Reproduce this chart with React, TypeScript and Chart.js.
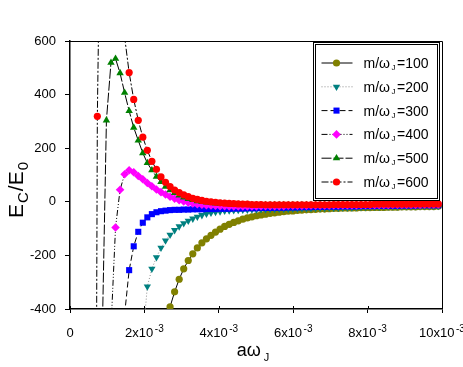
import { useEffect, useRef } from 'react';
import { Chart, registerables } from 'chart.js';
import { drawPoint } from 'chart.js/helpers';

Chart.register(...registerables);

// a*omega_J values (units of 10^-3)
const xValues = [
  0.613, 0.735, 0.857, 0.979, 1.102, 1.224, 1.346, 1.468, 1.590, 1.713,
  1.835, 1.957, 2.079, 2.201, 2.324, 2.446, 2.568, 2.690, 2.812, 2.935,
  3.057, 3.179, 3.301, 3.423, 3.546, 3.668, 3.790, 3.912, 4.034, 4.157,
  4.279, 4.401, 4.523, 4.645, 4.768, 4.890, 5.012, 5.134, 5.256, 5.379,
  5.501, 5.623, 5.745, 5.867, 5.990, 6.112, 6.234, 6.356, 6.478, 6.601,
  6.723, 6.845, 6.967, 7.089, 7.212, 7.334, 7.456, 7.578, 7.700, 7.823,
  7.945, 8.067, 8.189, 8.311, 8.434, 8.556, 8.678, 8.800, 8.922, 9.045,
  9.167, 9.289, 9.411, 9.533, 9.656, 9.778, 9.900,
];

const series100 = [
  null, null, null, null, null, null, null, null, null, null,
  null, null, null, null, null, null,
  -530, -392, -336, -289, -250, -219, -194, -172, -153, -138,
  -125, -113, -102, -92, -84, -77, -71, -65, -60, -56,
  -52, -49, -46, -43, -41, -39, -37, -35, -34, -32, -31,
  -30, -29, -28, -27, -27, -26, -25, -25, -24, -24,
  -23, -23, -22, -22, -22, -21, -21, -21, -20, -20,
  -20, -19, -19, -19, -19, -18, -18, -18, -18, -17,
];

const series200 = [
  null, null, null, null, null, null, null, null, null, null, null,
  -510, -316, -250, -207, -172, -145, -123, -106, -92, -80,
  -71, -63, -56, -50, -45, -41, -38, -36, -34, -33, -32,
  -31, -30, -30, -29, -29, -28, -28, -27, -27, -26, -26, -26, -25, -25, -24,
  -24, -24, -23, -23, -23, -22, -22, -22, -21, -21,
  -21, -20, -20, -20, -19, -19, -19, -18, -18, -18,
  -18, -17, -17, -17, -17, -16, -16, -16, -16, -16,
];

const series300 = [
  null, null, null, null, null, null, null,
  -420, -255, -166, -112, -78, -58, -46, -39, -35, -33, -31, -30, -30, -29, -29,
  -28, -28, -28, -27, -27, -27, -26, -26, -26, -25,
  -25, -25, -24, -24, -24, -23, -23, -23, -22, -22, -22, -21, -21, -21, -20,
  -20, -20, -19, -19, -19, -18, -18, -18, -17, -17,
  -17, -17, -16, -16, -16, -16, -15, -15, -15, -15,
  -15, -14, -14, -14, -14, -13, -13, -13, -13, -13,
];

const series400 = [
  null, null, null, null,
  -470, -96, 45, 103, 118, 110, 96, 84, 70, 58,
  46, 36, 27, 19, 12, 6, 1, -3, -6, -9,
  -11, -13, -14, -15, -16, -16, -17, -17, -17,
  -17, -17, -17, -17, -16, -16, -16, -16, -16,
  -16, -15, -15, -15, -15, -15, -14, -14, -14, -14,
  -14, -13, -13, -13, -13, -13, -13, -12, -12, -12,
  -12, -12, -12, -12, -11, -11, -11, -11, -11, -11,
  -11, -10, -10, -10, -10,
];

const series500 = [
  null, null,
  -570, 304, 519, 534, 480, 407, 339, 277, 229, 182,
  145, 118, 94, 74, 57, 44, 33, 24, 17, 11,
  7, 3, 0, -2, -4, -6, -7, -8, -9, -10,
  -10, -11, -11, -12,
  -12, -12, -12, -12, -12, -12, -12, -12, -12, -12, -12, -12, -12, -12, -12,
  -12, -12, -12, -11, -11, -11, -11, -11, -11, -11,
  -10, -10, -10, -10, -10, -10, -10, -10, -9, -9,
  -9, -9, -9, -9, -9, -9,
];

const series600 = [
  -4500, 319, 1550, 1380, 1140, 920, 750, 615, 482, 382,
  304, 241, 192, 151, 121, 93, 73, 57, 44, 34,
  26, 19, 13, 9, 5, 2, 0, -2, -4, -5,
  -6, -7, -8, -9, -9, -10,
  -10, -10, -11, -11, -11, -11, -11, -11, -11, -11, -11, -11, -11, -11, -11,
  -11, -11, -10, -10, -10, -10, -10, -10, -10, -10,
  -10, -9, -9, -9, -9, -9, -9, -9, -9, -9,
  -8, -8, -8, -8, -8, -8,
];

const seriesLabels = ['100', '200', '300', '400', '500', '600'];
const seriesValues = [series100, series200, series300, series400, series500, series600];
const xTickValues = [0, 2, 4, 6, 8, 10];
const yTickValues = [-400, -200, 0, 200, 400, 600];

const FONT = '"Liberation Sans", Arial, Helvetica, sans-serif';

const seriesStyles = [
  { color: '#808000', pointStyle: 'circle', radius: 3.6, rotation: 0, dash: [] as number[], line: '#000000' },
  { color: '#008080', pointStyle: 'triangle', radius: 4.2, rotation: 180, dash: [1, 2], line: '#8c8c8c' },
  { color: '#0000ff', pointStyle: 'rect', radius: 4.3, rotation: 0, dash: [6, 3], line: '#000000' },
  { color: '#ff00ff', pointStyle: 'rectRot', radius: 4.3, rotation: 0, dash: [6, 2, 1, 2, 1, 2], line: '#000000' },
  { color: '#008000', pointStyle: 'triangle', radius: 4.3, rotation: 0, dash: [10, 2], line: '#000000' },
  { color: '#ff0000', pointStyle: 'circle', radius: 3.6, rotation: 0, dash: [7, 2, 2, 2], line: '#000000' },
];

type Run = { t: string; size: number; dy?: number; gap?: number };

function drawRuns(ctx: CanvasRenderingContext2D, runs: Run[], x: number, y: number, align: 'left' | 'center') {
  const widths = runs.map((r) => {
    ctx.font = `${r.size}px ${FONT}`;
    return ctx.measureText(r.t).width + (r.gap || 0);
  });
  const total = widths.reduce((a, b) => a + b, 0);
  let cx = align === 'center' ? x - total / 2 : x;
  ctx.textAlign = 'left';
  ctx.textBaseline = 'alphabetic';
  runs.forEach((r, i) => {
    ctx.font = `${r.size}px ${FONT}`;
    ctx.fillText(r.t, cx, y + (r.dy || 0));
    cx += widths[i];
  });
}

const decorPlugin = {
  id: 'decor',
  afterDraw(chart: any) {
    const { ctx, chartArea: ca, scales } = chart;
    ctx.save();
    ctx.strokeStyle = '#000';
    ctx.lineWidth = 1;
    ctx.setLineDash([]);
    // top and right frame
    ctx.beginPath();
    ctx.moveTo(ca.left, ca.top + 0.5);
    ctx.lineTo(ca.right + 0.5, ca.top + 0.5);
    ctx.lineTo(ca.right + 0.5, ca.bottom);
    ctx.stroke();
    // inner part of x ticks
    xTickValues.forEach((v) => {
      const px = Math.round(scales.x.getPixelForValue(v)) + 0.5;
      ctx.beginPath();
      ctx.moveTo(px, ca.bottom - 3);
      ctx.lineTo(px, ca.bottom);
      ctx.stroke();
    });
    // x tick labels
    ctx.fillStyle = '#000';
    xTickValues.forEach((v) => {
      const px = scales.x.getPixelForValue(v);
      const runs: Run[] = v === 0
        ? [{ t: '0', size: 13 }]
        : [{ t: `${v}x10`, size: 13, gap: 1.5 }, { t: '-3', size: 10, dy: -5 }];
      drawRuns(ctx, runs, px, ca.bottom + 27.5, 'center');
    });
    // x title
    drawRuns(ctx, [{ t: 'aω', size: 18, gap: 3 }, { t: 'J', size: 11, dy: 5 }], (ca.left + ca.right) / 2 - 3, ca.bottom + 47, 'center');
    // y title
    ctx.save();
    ctx.translate(22.5, 190);
    ctx.rotate(-Math.PI / 2);
    drawRuns(ctx, [
      { t: 'E', size: 21, gap: 1 },
      { t: 'C', size: 15, dy: 5, gap: 1 },
      { t: '/E', size: 21, gap: 1 },
      { t: '0', size: 15, dy: 5 },
    ], 0, 0, 'center');
    ctx.restore();
    // legend
    const lx = ca.left + 243.5, ly = ca.top + 1.5, lw = 126, lh = 158;
    ctx.fillStyle = '#fff';
    ctx.fillRect(lx, ly, lw, lh);
    ctx.strokeStyle = '#000';
    ctx.strokeRect(lx, ly, lw, lh);
    ctx.strokeRect(lx + 2, ly + 2, lw - 4, lh - 4);
    seriesLabels.forEach((lab, i) => {
      const s = seriesStyles[i];
      const y = ly + 20.5 + i * 23.8;
      ctx.save();
      ctx.strokeStyle = s.line;
      ctx.lineWidth = 1;
      ctx.setLineDash(s.dash);
      ctx.beginPath();
      ctx.moveTo(lx + 8, y);
      ctx.lineTo(lx + 39, y);
      ctx.stroke();
      ctx.restore();
      ctx.save();
      ctx.setLineDash([]);
      ctx.fillStyle = s.color;
      ctx.strokeStyle = s.color;
      drawPoint(ctx, { pointStyle: s.pointStyle as any, rotation: s.rotation, radius: s.radius, borderWidth: 0 }, lx + 23, y);
      ctx.restore();
      ctx.fillStyle = '#000';
      drawRuns(ctx, [
        { t: 'm/ω', size: 14, gap: 1.5 },
        { t: 'J', size: 8, dy: 2, gap: 1.5 },
        { t: `=${lab}`, size: 14 },
      ], lx + 50, y + 5, 'left');
    });
    ctx.restore();
  },
};

export default function App() {
  const ref = useRef<HTMLCanvasElement | null>(null);
  useEffect(() => {
    if (!ref.current) return;
    const datasets = seriesValues.map((ys, i) => {
      const s = seriesStyles[i];
      const pts = xValues
        .map((x, j) => ({ x, y: ys[j] }))
        .filter((p) => p.y !== null && p.y !== undefined);
      return {
        label: `m/ωJ=${seriesLabels[i]}`,
        data: pts,
        borderColor: s.line,
        borderWidth: 1,
        borderDash: s.dash,
        pointStyle: s.pointStyle,
        pointRadius: s.radius,
        pointRotation: s.rotation,
        pointBackgroundColor: s.color,
        pointBorderColor: s.color,
        pointBorderWidth: 0,
        fill: false,
        tension: 0,
        order: 5 - i,
      };
    });
    const chart = new Chart(ref.current, {
      type: 'line',
      data: { datasets: datasets as any },
      options: {
        animation: false,
        responsive: false,
        events: [],
        layout: { padding: { left: 0, right: 21, top: 41, bottom: 0 } },
        plugins: { legend: { display: false }, tooltip: { enabled: false } },
        scales: {
          x: {
            type: 'linear',
            min: 0,
            max: 10,
            ticks: { stepSize: 2, display: false },
            afterBuildTicks: (s: any) => { s.ticks = xTickValues.map((v) => ({ value: v })); },
            grid: { drawOnChartArea: false, tickLength: 4, color: '#000', tickColor: '#000' },
            border: { color: '#000', width: 1.5 },
            afterFit: (s: any) => { s.height = 58; s.paddingLeft = 0; s.paddingRight = 0; },
          },
          y: {
            type: 'linear',
            min: -400,
            max: 600,
            afterBuildTicks: (s: any) => { s.ticks = yTickValues.map((v) => ({ value: v })); },
            ticks: { color: '#000', font: { size: 13, family: FONT }, padding: 9 },
            grid: { drawOnChartArea: false, tickLength: 5, color: '#000', tickColor: '#000' },
            border: { color: '#000', width: 1.5 },
            afterFit: (s: any) => { s.width = 70; s.paddingTop = 0; s.paddingBottom = 0; },
          },
        },
      },
      plugins: [decorPlugin],
    });
    return () => chart.destroy();
  }, []);
  return (
    <div style={{ position: 'absolute', left: 0, top: 0, width: 463, height: 367, background: '#fff' }}>
      <canvas ref={ref} width={463} height={367} style={{ display: 'block' }} />
    </div>
  );
}
